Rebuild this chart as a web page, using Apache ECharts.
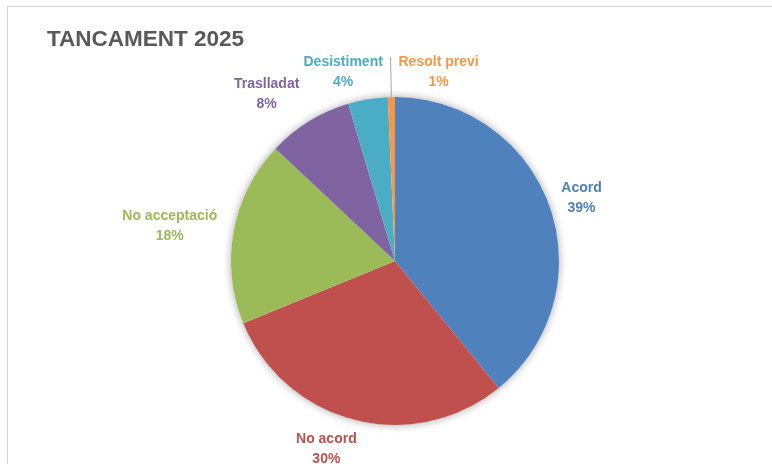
<!DOCTYPE html>
<html>
<head>
<meta charset="utf-8">
<script src="https://cdn.jsdelivr.net/npm/echarts@6/dist/echarts.min.js"></script>
<style>
  html, body { margin: 0; padding: 0; background: #fff; }
  #chart { position: absolute; left: 0; top: 0; width: 772px; height: 464px; }
  #frame { position: absolute; left: 7px; top: 6px; right: 0; bottom: 0;
           border-top: 1px solid #d4d4d4; border-left: 1px solid #d4d4d4; pointer-events: none; }
</style>
</head>
<body>
<div id="chart"></div>
<div id="frame"></div>
<script>
const title = 'TANCAMENT 2025';
const categories = ['Acord', 'No acord', 'No acceptació', 'Traslladat', 'Desistiment', 'Resolt previ'];
const values = [39.1, 29.7, 18.2, 8.4, 3.9, 0.7];
const colors = ['#4F81BD', '#C0504D', '#9BBB59', '#8064A2', '#4BACC6', '#F79646'];

// label styling (distance from the rim and small nudges, Excel-like placement)
const labelDistance = [33, 34, 64, 48, 34, 40];
const nudge = [[-4, 3], [-15, -4], [4, 6], [-12, 14], [-14, 6], [13, -5]];

const chart = echarts.init(document.getElementById('chart'), null, { renderer: 'canvas' });

const data = categories.map((name, i) => ({
  name: name,
  value: values[i],
  itemStyle: { color: colors[i] },
  label: { color: colors[i] },
  labelLine: { show: i === 5, length: labelDistance[i], length2: 0,
               lineStyle: { color: '#a6a6a6', width: 1 } }
}));

chart.setOption({
  animation: false,
  title: {
    text: title,
    left: 47, top: 28, padding: 0,
    textStyle: { fontFamily: 'Liberation Sans', fontWeight: 'bold', fontSize: 22.5, color: '#595959' }
  },
  series: [
    {
      type: 'pie',
      silent: true,
      center: [395, 261],
      radius: 164,
      z: 1,
      label: { show: false },
      labelLine: { show: false },
      itemStyle: { color: '#ffffff', shadowBlur: 8, shadowColor: 'rgba(0,0,0,0.35)' },
      data: [{ value: 1, name: '' }]
    },
    {
      type: 'pie',
      center: [395, 261],
      radius: 164,
      startAngle: 90,
      clockwise: true,
      avoidLabelOverlap: false,
      percentPrecision: 0,
      z: 2,
      itemStyle: { borderWidth: 0 },
      label: {
        show: true,
        position: 'outside',
        formatter: '{c|{b}}\n{c|{d}%}',
        fontFamily: 'Liberation Sans',
        fontWeight: 'bold',
        fontSize: 14,
        lineHeight: 20,
        rich: { c: { align: 'center', fontFamily: 'Liberation Sans', fontWeight: 'bold', fontSize: 14, lineHeight: 20 } }
      },
      labelLayout: function (p) {
        const n = nudge[p.dataIndex];
        if (p.dataIndex === 5) {
          return { align: 'left', verticalAlign: 'top', dx: n[0], dy: n[1] };
        }
        return { align: 'center', verticalAlign: 'middle', dx: n[0], dy: n[1] };
      },
      data: data
    }
  ]
});
</script>
</body>
</html>
